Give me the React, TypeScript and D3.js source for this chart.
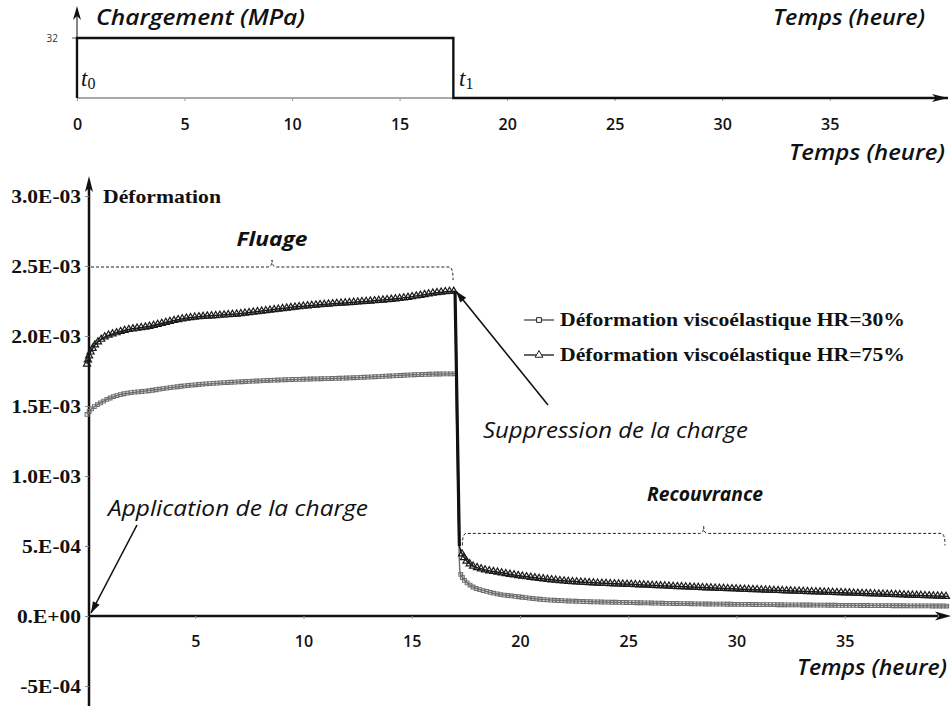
import { useEffect, useRef } from 'react'
import * as d3 from 'd3'

// loading history (top chart)
const loadTime = [0, 0, 17.5, 17.5, 40.5]
const loadMPa = [0, 32, 32, 0, 0]
const hourTicks = [0, 5, 10, 15, 20, 25, 30, 35]
const hourTicksBottom = [5, 10, 15, 20, 25, 30, 35]

// strain curves (bottom chart)
const timeHR30 = [0, 0.15, 0.6, 1.5, 2.9, 4.3, 8, 12, 17, 17.23, 17.7, 18.6, 20, 21.4, 26, 32.9, 39.8]
const strainHR30 = [1.44e-3, 1.47e-3, 1.52e-3, 1.58e-3, 1.61e-3, 1.64e-3, 1.68e-3, 1.7e-3, 1.73e-3, 3.1e-4, 2.2e-4, 1.7e-4, 1.36e-4, 1.14e-4, 9.3e-5, 7.9e-5, 7.1e-5]
const timeHR75 = [0, 0.1, 0.25, 0.6, 1.5, 2.9, 4.3, 7.1, 9.8, 14.5, 17, 17.2, 17.37, 17.7, 18.15, 19.1, 21.4, 26, 30.6, 35.2, 39.8]
const strainHR75 = [1.8e-3, 1.86e-3, 1.91e-3, 1.97e-3, 2.03e-3, 2.07e-3, 2.12e-3, 2.16e-3, 2.21e-3, 2.27e-3, 2.32e-3, 5.0e-4, 4.3e-4, 3.7e-4, 3.4e-4, 3.1e-4, 2.6e-4, 2.2e-4, 1.9e-4, 1.65e-4, 1.4e-4]
const strainTicks = [-5e-4, 0, 5e-4, 1e-3, 1.5e-3, 2e-3, 2.5e-3, 3e-3]
const strainTickLabels = ['-5E-04', '0.E+00', '5.E-04', '1.0E-03', '1.5E-03', '2.0E-03', '2.5E-03', '3.0E-03']
const legendLabels = ['Déformation viscoélastique HR=30%', 'Déformation viscoélastique HR=75%']

const W = 951
const H = 706
const SANS = '"Open Sans", "DejaVu Sans", sans-serif'
const SERIF = '"Liberation Serif", "DejaVu Serif", serif'

export default function App() {
  const ref = useRef<SVGSVGElement | null>(null)
  useEffect(() => {
    const svg = d3.select(ref.current)
    svg.selectAll('*').remove()
    svg.attr('width', W).attr('height', H)
    svg.append('rect').attr('width', W).attr('height', H).attr('fill', '#fff')

    const arrowHead = (tipX: number, tipY: number, dir: 'up' | 'right', len = 14, half = 4) => {
      const p = dir === 'up'
        ? [[tipX, tipY], [tipX - half, tipY + len], [tipX, tipY + len - 4], [tipX + half, tipY + len]]
        : [[tipX, tipY], [tipX - len, tipY - half], [tipX - len + 4, tipY], [tipX - len, tipY + half]]
      svg.append('path').attr('d', 'M' + p.map((d) => d.join(',')).join('L') + 'Z').attr('fill', '#111')
    }

    // ---------- top chart : loading ----------
    const xTop = d3.scaleLinear().domain([0, 40.5]).range([77, 948])
    const yTop = d3.scaleLinear().domain([0, 32]).range([98, 38])

    svg.append('line').attr('x1', xTop(0)).attr('x2', 940).attr('y1', yTop(0)).attr('y2', yTop(0))
      .attr('stroke', '#555').attr('stroke-width', 1.2)
    arrowHead(948, yTop(0), 'right', 16, 4)
    svg.append('line').attr('x1', xTop(0)).attr('x2', xTop(0)).attr('y1', yTop(0)).attr('y2', 14)
      .attr('stroke', '#333').attr('stroke-width', 1.2)
    arrowHead(xTop(0), 6, 'up', 14, 4)
    svg.append('line').attr('x1', 72).attr('x2', 77).attr('y1', yTop(32)).attr('y2', yTop(32)).attr('stroke', '#555')
    svg.append('text').attr('x', 58).attr('y', yTop(32) + 4).attr('text-anchor', 'end')
      .attr('font-family', SANS).attr('font-size', 10).attr('fill', '#333').text('32')

    const gTop = svg.append('g').attr('transform', `translate(0,${yTop(0)})`)
    gTop.call(d3.axisBottom(xTop).tickValues(hourTicks).tickSize(3).tickFormat((d: any) => String(d)) as any)
    gTop.select('.domain').remove()
    gTop.selectAll('.tick line').attr('stroke', '#999')
    gTop.selectAll('.tick text').attr('y', 32).attr('dy', null)
      .attr('font-family', SANS).attr('font-size', 16).attr('font-weight', 600).attr('fill', '#111')

    const loadLine = d3.line<number>().x((_, i) => xTop(loadTime[i])).y((d) => yTop(d))
    svg.append('path').datum(loadMPa).attr('d', loadLine as any).attr('fill', 'none')
      .attr('stroke', '#111').attr('stroke-width', 2.4)

    const tLabel = (x: number, y: number, sub: string) => {
      const t = svg.append('text').attr('x', x).attr('y', y).attr('font-family', SERIF).attr('fill', '#111')
      t.append('tspan').attr('font-style', 'italic').attr('font-size', 23).text('t')
      t.append('tspan').attr('font-size', 16).attr('dy', 3).text(sub)
    }
    tLabel(81, 86, '0')
    tLabel(459, 86, '1')

    const italicText = (s: string, x: number, y: number, len: number, size: number, weight: number, anchor = 'start') =>
      svg.append('text').attr('x', x).attr('y', y).attr('text-anchor', anchor)
        .attr('font-family', SANS).attr('font-style', 'italic').attr('font-weight', weight)
        .attr('font-size', size).attr('fill', '#111')
        .attr('textLength', len).attr('lengthAdjust', 'spacingAndGlyphs').text(s)

    italicText('Chargement (MPa)', 96, 25, 209, 21, 600)
    italicText('Temps (heure)', 773, 25, 152, 21, 600)
    italicText('Temps (heure)', 789, 160, 156, 21, 600)

    // ---------- bottom chart : strain ----------
    const x = d3.scaleLinear().domain([0, 40]).range([87, 953])
    const y = d3.scaleLinear().domain([-5e-4, 3e-3]).range([686, 196])
    const x0 = 89

    // dashed brackets
    const bracket = (xa: number, xb: number, yb: number, drop: number, leftDrop: boolean) => {
      const xm = (xa + xb) / 2
      const d = [
        leftDrop ? `M${xa},${yb + drop}Q${xa},${yb} ${xa + 4},${yb}` : `M${xa},${yb}`,
        `L${xm - 4},${yb}Q${xm},${yb} ${xm},${yb - 7}Q${xm},${yb} ${xm + 4},${yb}`,
        `L${xb - 4},${yb}Q${xb},${yb} ${xb},${yb + drop}`,
      ].join('')
      svg.append('path').attr('d', d).attr('fill', 'none').attr('stroke', '#222')
        .attr('stroke-width', 1).attr('stroke-dasharray', '3,2')
    }
    bracket(91, x(17) - 2, y(2.5e-3) + 1, 13, false)
    bracket(x(17.2) + 3, 945, y(5.9e-4), 12, true)

    // axes
    svg.append('line').attr('x1', x0).attr('x2', x0).attr('y1', H).attr('y2', 188)
      .attr('stroke', '#111').attr('stroke-width', 2.5)
    arrowHead(x0, 176, 'up', 16, 4)
    svg.append('line').attr('x1', x0).attr('x2', 938).attr('y1', y(0)).attr('y2', y(0))
      .attr('stroke', '#111').attr('stroke-width', 2.5)
    arrowHead(951, y(0), 'right', 16, 4.5)

    const gy = svg.append('g').attr('transform', `translate(${x0},0)`)
    gy.call(d3.axisLeft(y).tickValues(strainTicks).tickSize(4)
      .tickFormat((_: any, i: number) => strainTickLabels[i]) as any)
    gy.select('.domain').remove()
    gy.selectAll('.tick line').attr('stroke', '#888')
    gy.selectAll('.tick text').attr('x', -8).attr('dy', '0.34em')
      .attr('font-family', SERIF).attr('font-size', 19).attr('font-weight', 700).attr('fill', '#111')
    // the scanned labels are a little wider than the font
    gy.selectAll<SVGTextElement, unknown>('.tick text').each(function () {
      const len = this.getComputedTextLength()
      d3.select(this).attr('textLength', len * 1.13).attr('lengthAdjust', 'spacingAndGlyphs')
    })

    const gx = svg.append('g').attr('transform', `translate(0,${y(0)})`)
    gx.call(d3.axisBottom(x).tickValues(hourTicksBottom).tickSize(3).tickFormat((d: any) => String(d)) as any)
    gx.select('.domain').remove()
    gx.selectAll('.tick line').attr('stroke', '#999')
    gx.selectAll('.tick text').attr('y', 31).attr('dy', null)
      .attr('font-family', SANS).attr('font-size', 16).attr('font-weight', 600).attr('fill', '#111')

    svg.append('text').attr('x', 103).attr('y', 203).attr('font-family', SERIF).attr('font-weight', 700)
      .attr('font-size', 19).attr('fill', '#111').attr('textLength', 118).attr('lengthAdjust', 'spacingAndGlyphs')
      .text('Déformation')

    // curves
    const drawSeries = (ts: number[], vs: number[], color: string, sym: d3.SymbolType, size: number, step: number, sw: number) => {
      const line = d3.line<number>().x((_, i) => x(ts[i])).y((d) => y(d)).curve(d3.curveMonotoneX)
      const path = svg.append('path').datum(vs).attr('d', line as any).attr('fill', 'none')
        .attr('stroke', color).attr('stroke-width', 1.5)
      const node = path.node() as SVGPathElement
      const total = node.getTotalLength()
      const pts: [number, number][] = []
      for (let l = 0; l <= total; l += step) {
        const a = node.getPointAtLength(l)
        const b = node.getPointAtLength(Math.min(total, l + 1))
        if (Math.abs(b.y - a.y) > 2.5 * Math.abs(b.x - a.x) + 0.01 && l > 20) continue
        pts.push([a.x, a.y])
      }
      svg.append('g').selectAll('path').data(pts).enter().append('path')
        .attr('transform', (d) => `translate(${d[0]},${d[1]})`)
        .attr('d', d3.symbol().type(sym).size(size)() as string)
        .attr('fill', 'none').attr('stroke', color).attr('stroke-width', sw)
      return path
    }
    drawSeries(timeHR30, strainHR30, '#707070', d3.symbolSquare, 14, 3.6, 1.1)
    drawSeries(timeHR75, strainHR75, '#1a1a1a', d3.symbolTriangle, 22, 4.2, 1.2)
    // heavy drop segment at unloading
    svg.append('line').attr('x1', x(17)).attr('y1', y(2.32e-3)).attr('x2', x(17.2)).attr('y2', y(5e-4))
      .attr('stroke', '#111').attr('stroke-width', 3.2)

    // legend
    legendLabels.forEach((lab, i) => {
      const ly = 320 + i * 35
      svg.append('line').attr('x1', 524).attr('x2', 554).attr('y1', ly).attr('y2', ly)
        .attr('stroke', i === 0 ? '#444' : '#111').attr('stroke-width', 1.3)
      svg.append('path').attr('transform', `translate(539,${ly})`)
        .attr('d', d3.symbol().type(i === 0 ? d3.symbolSquare : d3.symbolTriangle).size(i === 0 ? 22 : 26)() as string)
        .attr('fill', '#fff').attr('stroke', '#222').attr('stroke-width', 1)
      svg.append('text').attr('x', 560).attr('y', ly + 6).attr('font-family', SERIF).attr('font-weight', 700)
        .attr('font-size', 19).attr('fill', '#111').attr('textLength', 345).attr('lengthAdjust', 'spacingAndGlyphs')
        .text(lab)
    })

    // annotations
    italicText('Fluage', 272, 246, 71, 20, 700, 'middle')
    italicText('Recouvrance', 705, 501, 116, 20, 700, 'middle')
    italicText('Suppression de la charge', 483, 438, 265, 21, 400)
    italicText('Application de la charge', 108, 516, 260, 21, 400)
    italicText('Temps (heure)', 797, 675, 150, 21, 600)

    const pointer = (xa: number, ya: number, xb: number, yb: number) => {
      svg.append('line').attr('x1', xa).attr('y1', ya).attr('x2', xb).attr('y2', yb)
        .attr('stroke', '#111').attr('stroke-width', 1.6)
      const ang = Math.atan2(yb - ya, xb - xa)
      const L = 12, w = 0.32
      const p1 = [xb - L * Math.cos(ang - w), yb - L * Math.sin(ang - w)]
      const p2 = [xb - L * Math.cos(ang + w), yb - L * Math.sin(ang + w)]
      svg.append('path').attr('d', `M${xb},${yb}L${p1.join(',')}L${p2.join(',')}Z`).attr('fill', '#111')
    }
    pointer(548, 405, x(17) + 1, y(2.32e-3))
    pointer(137, 525, 91, y(0) - 3)
  }, [])
  return <svg ref={ref} style={{ position: 'absolute', left: 0, top: 0, display: 'block' }} />
}
